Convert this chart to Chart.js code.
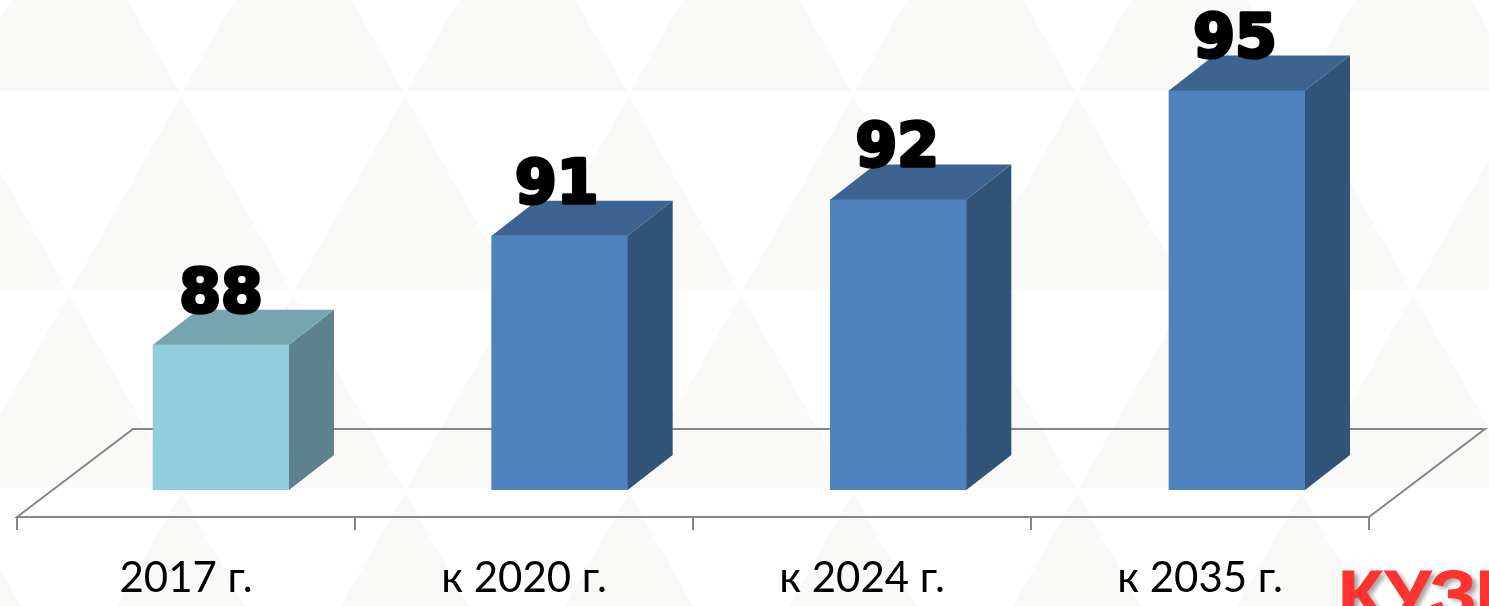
<!DOCTYPE html>
<html><head><meta charset="utf-8">
<style>html,body{margin:0;padding:0;background:#fff;overflow:hidden}
#wrap{position:relative;width:1489px;height:606px;overflow:hidden}
#logo{position:absolute;left:1338px;top:560px;font:bold 68px/68px "Liberation Sans",sans-serif;color:#ff3330;letter-spacing:-1px;-webkit-text-stroke:1px #ff3330;text-shadow:4px 3px 4px rgba(0,0,0,.35);white-space:nowrap;transform:scaleX(1.1);transform-origin:left top}
canvas{display:block}</style>
<script src="https://cdn.jsdelivr.net/npm/chart.js@4/dist/chart.umd.min.js"></script>
</head><body><div id="wrap"><canvas id="c" width="1489" height="606"></canvas><div id="logo">КУЗБ</div></div>
<script>
const categories = ['2017 г.', 'к 2020 г.', 'к 2024 г.', 'к 2035 г.'];
const values = [88, 91, 92, 95];
const baseValue = 84;
const frontColors = ['#93cddd', '#4f81bd', '#4f81bd', '#4f81bd'];
const sideColors = ['#5e828c', '#325378', '#325378', '#325378'];
const topColors = ['#76a4b1', '#3d6390', '#3d6390', '#3d6390'];
const labelShift = [0, -3, -1, -2];

const DX = 45, DY = 35, FLOOR_DROP = 27, FLOOR_DX = 116, FLOOR_DY = 88;

const patternPlugin = {
  id: 'pattern',
  beforeDraw(chart) {
    const g = chart.ctx, W = 1489, tw = 224, th = 199;
    g.save();
    g.fillStyle = '#f9f9f7';
    for (let r = -1; r < 5; r++) {
      const yApex = -107 + th * r + (r > 1 ? -1 : 0);
      const off = ((r % 2) + 2) % 2 === 0 ? 69 : 181;
      for (let x = off - 2 * tw; x < W + tw; x += tw) {
        g.beginPath();
        g.moveTo(x, yApex + 4);
        g.lineTo(x + tw / 2 - 2, yApex + th - 1);
        g.lineTo(x - tw / 2 + 2, yApex + th - 1);
        g.closePath();
        g.fill();
      }
    }
    g.restore();
  }
};

const floorPlugin = {
  id: 'floor',
  beforeDatasetsDraw(chart) {
    const g = chart.ctx, sx = chart.scales.x, y = chart.chartArea.bottom + FLOOR_DROP;
    g.save();
    g.strokeStyle = '#868686';
    g.lineWidth = 2;
    g.beginPath();
    g.moveTo(sx.left, y);
    g.lineTo(sx.left + FLOOR_DX, y - FLOOR_DY);
    g.lineTo(sx.right + FLOOR_DX, y - FLOOR_DY);
    g.lineTo(sx.right, y);
    g.closePath();
    for (let i = 0; i <= categories.length; i++) {
      const px = sx.getPixelForValue(i - 0.5);
      g.moveTo(px, y);
      g.lineTo(px, y + 13);
    }
    g.stroke();
    g.restore();
  }
};

const facesPlugin = {
  id: 'faces',
  afterDatasetsDraw(chart) {
    const g = chart.ctx, bars = chart.getDatasetMeta(0).data;
    g.save();
    bars.forEach((b, i) => {
      const p = b.getProps(['x', 'y', 'base', 'width']);
      const L = p.x - p.width / 2, R = p.x + p.width / 2;
      g.fillStyle = sideColors[i];
      g.beginPath();
      g.moveTo(R, p.y); g.lineTo(R + DX, p.y - DY); g.lineTo(R + DX, p.base - DY); g.lineTo(R, p.base);
      g.closePath(); g.fill();
      g.fillStyle = topColors[i];
      g.beginPath();
      g.moveTo(L, p.y); g.lineTo(L + DX, p.y - DY); g.lineTo(R + DX, p.y - DY); g.lineTo(R, p.y);
      g.closePath(); g.fill();
    });
    g.font = 'bold 60px "DejaVu Sans", sans-serif';
    g.textAlign = 'center';
    g.textBaseline = 'alphabetic';
    g.fillStyle = '#000';
    g.strokeStyle = '#000';
    g.lineWidth = 3.5;
    g.lineJoin = 'round';
    bars.forEach((b, i) => {
      const p = b.getProps(['x', 'y']);
      const t = String(values[i]);
      g.strokeText(t, p.x + labelShift[i], p.y - 33);
      g.fillText(t, p.x + labelShift[i], p.y - 33);
    });
    g.restore();
  }
};

new Chart(document.getElementById('c'), {
  type: 'bar',
  data: {
    labels: categories,
    datasets: [{
      data: values.map((v, i) => ({ x: i, y: v })),
      xAxisID: 'xBars',
      yAxisID: 'y',
      base: baseValue,
      backgroundColor: frontColors,
      borderWidth: 0,
      barThickness: 136
    }]
  },
  options: {
    responsive: false,
    animation: false,
    layout: { padding: { left: 17, right: 120, top: 0, bottom: 0 } },
    plugins: { legend: { display: false }, tooltip: { enabled: false } },
    scales: {
      x: {
        type: 'category',
        labels: categories,
        position: 'bottom',
        offset: true,
        grid: { display: false, drawTicks: false },
        border: { display: false },
        ticks: { color: '#000', font: { family: 'Lato', size: 42 }, padding: 63, maxRotation: 0, autoSkip: false },
        afterFit(s) { s.height = 116; }
      },
      xBars: {
        type: 'linear',
        axis: 'x',
        position: 'bottom',
        display: false,
        offset: false,
        min: -0.6024,
        max: 3.3898
      },
      y: { display: false, min: baseValue, max: 97.49 }
    }
  },
  plugins: [patternPlugin, floorPlugin, facesPlugin]
});
</script></body></html>
